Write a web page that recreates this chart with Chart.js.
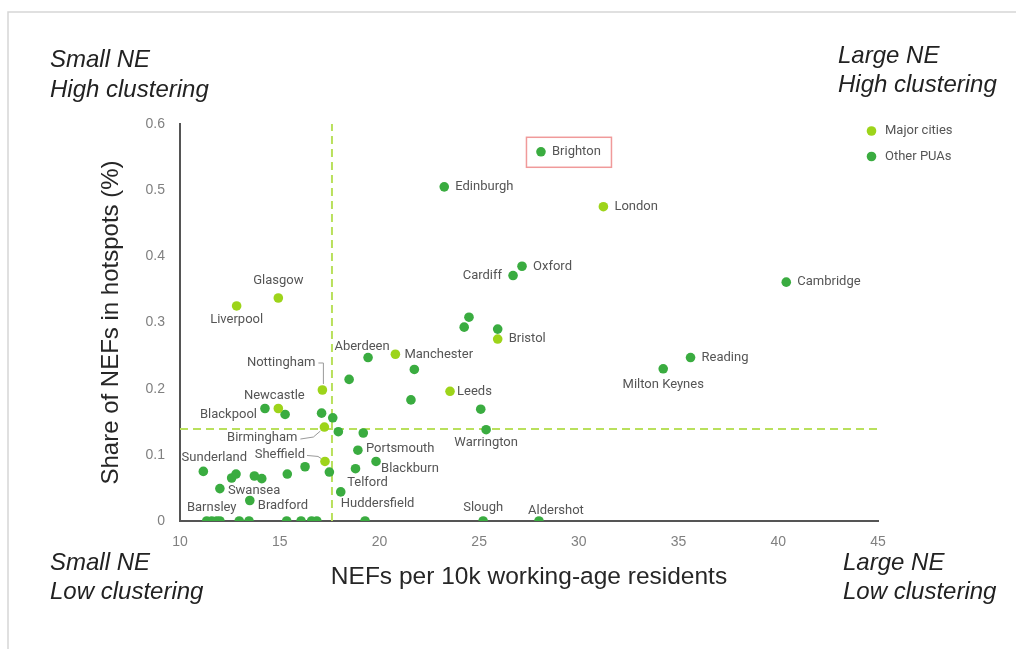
<!DOCTYPE html>
<html>
<head>
<meta charset="utf-8">
<script src="https://cdn.jsdelivr.net/npm/chart.js@4.4.0/dist/chart.umd.min.js"></script>
<style>
  html, body { margin: 0; padding: 0; background: #fff; }
  #wrap { width: 1016px; height: 649px; position: relative; }
</style>
</head>
<body>
<div id="wrap"><canvas id="nefChart"></canvas></div>
<script>
// =============================================
// DATA
// =============================================
const majorNames = ['London', 'Glasgow', 'Liverpool', 'Bristol', 'Manchester', 'Nottingham', 'Leeds', 'Newcastle', 'Birmingham', 'Sheffield'];
const majorNefs  = [31.23, 14.93, 12.84, 25.93, 20.80, 17.14, 23.54, 14.93, 17.24, 17.27];
const majorShare = [0.475, 0.337, 0.325, 0.275, 0.252, 0.198, 0.196, 0.170, 0.142, 0.090];

const otherNames = [
    'Brighton', 'Edinburgh', 'Oxford', 'Cardiff', 'Cambridge', 'Aberdeen', 'Reading', 'Milton Keynes',
    'Blackpool', 'Warrington', 'Portsmouth', 'Blackburn', 'Telford', 'Sunderland', 'Swansea', 'Bradford',
    'Huddersfield', 'Slough', 'Aldershot', 'Barnsley',
    '', '', '', '', '', '', '', '', '', '', '', '',
    '', '', '', '', '', '', '',
    '', '', '', '', '', '', '', '', '', ''
];
const otherNefs = [
    28.10, 23.25, 27.15, 26.70, 40.40, 19.43, 35.60, 34.23,
    14.26, 25.35, 18.92, 19.83, 18.80, 11.17, 12.00, 13.50,
    18.06, 25.20, 28.00, 11.59,
    24.49, 24.25, 25.93, 21.75, 18.48, 21.58, 25.08, 15.27, 17.10, 17.66, 17.94, 19.19,
    12.59, 12.81, 13.73, 14.10, 15.38, 16.27, 17.49,
    11.34, 11.84, 12.00, 12.97, 13.46, 15.35, 16.07, 16.60, 16.86, 19.28
];
const otherShare = [
    0.558, 0.505, 0.385, 0.371, 0.361, 0.247, 0.247, 0.230,
    0.170, 0.138, 0.107, 0.090, 0.079, 0.075, 0.049, 0.031,
    0.044, 0, 0, 0,
    0.308, 0.293, 0.290, 0.229, 0.214, 0.183, 0.169, 0.161, 0.163, 0.156, 0.135, 0.133,
    0.065, 0.071, 0.068, 0.064, 0.071, 0.082, 0.074,
    0, 0, 0, 0, 0, 0, 0, 0, 0, 0
];

const xTicks = [10, 15, 20, 25, 30, 35, 40, 45];
const yTicks = [0, 0.1, 0.2, 0.3, 0.4, 0.5, 0.6];

// quadrant split lines
const nefSplit = 17.62;
const shareSplit = 0.139;

// =============================================
// STYLE
// =============================================
const majorColor = '#9dd41a';
const otherColor = '#3aac40';
const dashColor  = '#b9e05c';
const labelColor = '#555555';
const labelFont  = "13px 'Liberation Sans Narrow', 'Arial Narrow', Roboto, sans-serif";

// label placement relative to the point: [dx, dy, align]
const labelPlace = {
    'Brighton': [11, 0, 'left'], 'Edinburgh': [11, 0, 'left'], 'London': [11, 0, 'left'],
    'Oxford': [11, 0, 'left'], 'Cardiff': [-11, 0, 'right'], 'Cambridge': [11, 0, 'left'],
    'Glasgow': [0, -17, 'center'], 'Liverpool': [0, 14, 'center'], 'Aberdeen': [-6, -11, 'center'],
    'Manchester': [9, 0, 'left'], 'Nottingham': [-7, -27, 'right'], 'Newcastle': [-4, -13, 'center'],
    'Blackpool': [-8, 6, 'right'], 'Birmingham': [-27, 11, 'right'], 'Sheffield': [-20, -7, 'right'],
    'Sunderland': [11, -14, 'center'], 'Swansea': [8, 2, 'left'], 'Barnsley': [0, -13, 'center'],
    'Bradford': [8, 5, 'left'], 'Portsmouth': [8, -1, 'left'], 'Blackburn': [5, 7, 'left'],
    'Telford': [12, 14, 'center'], 'Huddersfield': [0, 12, 'left'], 'Leeds': [7, 0, 'left'],
    'Bristol': [11, 0, 'left'], 'Milton Keynes': [0, 16, 'center'], 'Reading': [11, 0, 'left'],
    'Warrington': [0, 13, 'center'], 'Slough': [0, -13, 'center'], 'Aldershot': [17, -10, 'center']
};

// leader lines (relative to point)
const leaders = {
    'Nottingham': [[-4, -27], [1, -27], [1, -6]],
    'Birmingham': [[-24, 12], [-11, 10], [-4, 4]],
    'Sheffield':  [[-18, -6], [-7, -5], [-4, -3]]
};

function toPoints(xs, ys, names) {
    return xs.map((x, i) => ({ x: x, y: ys[i], name: names[i] }));
}

// =============================================
// DECORATION PLUGIN
// =============================================
const decorPlugin = {
    id: 'decor',
    beforeDraw(chart) {
        const c = chart.ctx;
        c.save();
        c.fillStyle = '#fff';
        c.fillRect(0, 0, chart.width, chart.height);
        // outer frame
        c.strokeStyle = '#d6d6d6';
        c.lineWidth = 1.5;
        c.strokeRect(8, 12, 1100, 700);
        c.restore();
    },
    afterDatasetsDraw(chart) {
        const c = chart.ctx;
        c.save();

        // point labels + leaders
        c.font = labelFont;
        c.fillStyle = labelColor;
        c.textBaseline = 'middle';
        [0, 1].forEach(di => {
            const meta = chart.getDatasetMeta(di);
            chart.data.datasets[di].data.forEach((p, i) => {
                if (!p.name) return;
                const el = meta.data[i];
                const pl = labelPlace[p.name];
                if (!pl) return;
                c.textAlign = pl[2];
                c.fillText(p.name, el.x + pl[0], el.y + pl[1]);
                const ld = leaders[p.name];
                if (ld) {
                    c.strokeStyle = '#9a9a9a';
                    c.lineWidth = 1;
                    c.beginPath();
                    ld.forEach((q, k) => {
                        if (k === 0) c.moveTo(el.x + q[0], el.y + q[1]);
                        else c.lineTo(el.x + q[0], el.y + q[1]);
                    });
                    c.stroke();
                }
                if (p.name === 'Brighton') {
                    c.strokeStyle = '#f09a9a';
                    c.lineWidth = 1.5;
                    c.strokeRect(el.x - 14.5, el.y - 14.5, 85, 30);
                }
            });
        });

        // legend
        const legend = [['Major cities', majorColor], ['Other PUAs', otherColor]];
        legend.forEach((lg, k) => {
            const y = 131 + k * 25.5;
            c.fillStyle = lg[1];
            c.beginPath();
            c.arc(871.5, y, 4.8, 0, Math.PI * 2);
            c.fill();
            c.fillStyle = labelColor;
            c.textAlign = 'left';
            c.fillText(lg[0], 885, y);
        });

        // quadrant captions
        c.font = "italic 24px 'Liberation Sans', Arial, sans-serif";
        c.fillStyle = '#222';
        c.textAlign = 'left';
        c.fillText('Small NE', 50, 60);
        c.fillText('High clustering', 50, 90);
        c.fillText('Large NE', 838, 56);
        c.fillText('High clustering', 838, 85);
        c.fillText('Small NE', 50, 563);
        c.fillText('Low clustering', 50, 592);
        c.fillText('Large NE', 843, 563);
        c.fillText('Low clustering', 843, 592);

        c.restore();
    }
};

// =============================================
// CHART
// =============================================
const tickFont = { family: "'Liberation Sans', Arial, sans-serif", size: 14 };
const titleFont = { family: "'Liberation Sans', Arial, sans-serif", size: 24.5 };

new Chart(document.getElementById('nefChart'), {
    type: 'scatter',
    data: {
        datasets: [
            {
                label: 'Major cities',
                data: toPoints(majorNefs, majorShare, majorNames),
                backgroundColor: majorColor,
                borderWidth: 0,
                pointRadius: 4.8,
                order: 0
            },
            {
                label: 'Other PUAs',
                data: toPoints(otherNefs, otherShare, otherNames),
                backgroundColor: otherColor,
                borderWidth: 0,
                pointRadius: 4.8,
                order: 1
            },
            {
                type: 'line',
                label: 'nef split',
                data: [{ x: nefSplit, y: 0 }, { x: nefSplit, y: 0.6 }],
                borderColor: dashColor,
                borderDash: [8, 5],
                borderWidth: 2,
                pointRadius: 0,
                order: 5
            },
            {
                type: 'line',
                label: 'share split',
                data: [{ x: 10, y: shareSplit }, { x: 45, y: shareSplit }],
                borderColor: dashColor,
                borderDash: [8, 5],
                borderWidth: 2,
                pointRadius: 0,
                order: 5
            }
        ]
    },
    options: {
        responsive: true,
        maintainAspectRatio: false,
        animation: false,
        layout: { padding: { left: 0, top: 124, right: 138, bottom: 0 } },
        plugins: {
            legend: { display: false },
            tooltip: { enabled: false }
        },
        scales: {
            x: {
                type: 'linear',
                min: 10,
                max: 45,
                afterBuildTicks: s => { s.ticks = xTicks.map(v => ({ value: v })); },
                afterFit: s => { s.height = 128; },
                grid: { display: false, drawTicks: false },
                border: { display: true, color: '#555', width: 2 },
                ticks: { font: tickFont, color: '#808080', padding: 13 },
                title: {
                    display: true,
                    text: 'NEFs per 10k working-age residents',
                    font: titleFont,
                    color: '#262626',
                    padding: { top: 0, bottom: 57 }
                }
            },
            y: {
                type: 'linear',
                min: 0,
                max: 0.6,
                afterBuildTicks: s => { s.ticks = yTicks.map(v => ({ value: v })); },
                afterFit: s => { s.width = 180; },
                grid: { display: false, drawTicks: false },
                border: { display: true, color: '#555', width: 2 },
                ticks: { font: tickFont, color: '#808080', padding: 15 },
                title: {
                    display: true,
                    text: 'Share of NEFs in hotspots (%)',
                    font: { family: "'Liberation Sans', Arial, sans-serif", size: 24 },
                    color: '#262626',
                    padding: { top: 97, bottom: 0 }
                }
            }
        }
    },
    plugins: [decorPlugin]
});
</script>
</body>
</html>
